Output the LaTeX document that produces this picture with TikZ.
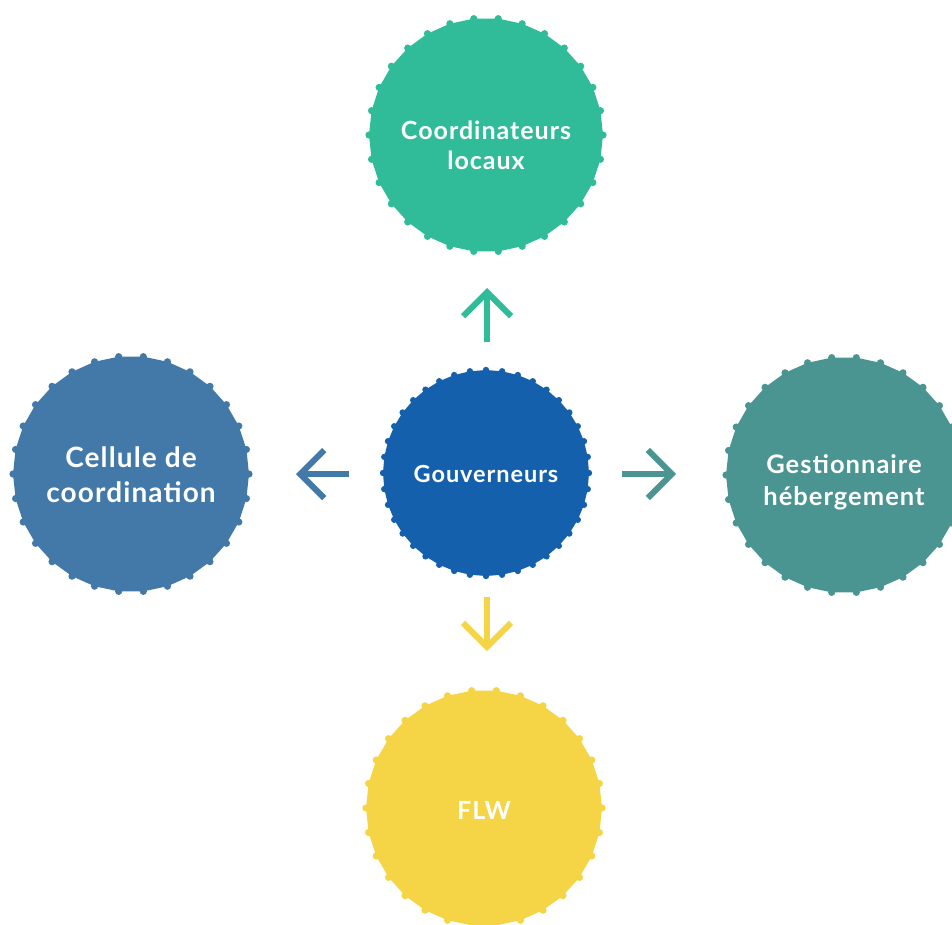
\documentclass[tikz,border=0pt]{standalone}
\usepackage{fontspec}
\setmainfont{Lato}[LetterSpace=4]
\usetikzlibrary{arrows.meta}
\definecolor{cgreen}{HTML}{30BC99}
\definecolor{cblue}{HTML}{1560AC}
\definecolor{cleft}{HTML}{4279A8}
\definecolor{cteal}{HTML}{4A9591}
\definecolor{cyellow}{HTML}{F5D545}
\tikzset{
  bubble/.style={circle, inner sep=0pt},
  btext/.style={text=white, align=center, inner sep=0pt},
  arr/.style={line width=6pt, draw=#1, -{Straight Barb[length=24pt, width=48pt, line width=6pt, line join=miter]}},
}
% name, x, y, r, n, dot radius, colour, text options, text
\newcommand\mybubble[9]{%
  \fill[#7] ({#2+#4},#3) \foreach \k in {1,...,#5}{ -- ([shift={({360/#5*\k}:#4)}]#2,#3) } -- cycle;
  \foreach \k in {1,...,#5}{ \fill[#7] ([shift={({360/#5*\k}:#4)}]#2,#3) circle (#6pt); }
  \node[bubble, minimum size={2*#4pt}] (#1) at (#2,#3) {};
  \node[btext, #8] (#1t) at (#1) {#9};
}
\begin{document}
\begin{tikzpicture}[x=1pt,y=-1pt]
\useasboundingbox (0,0) rectangle (952,924);
\clip (0,0) rectangle (952,924);
\mybubble{coord}{486}{135}{117}{30}{3.6}{cgreen}{font=\fontsize{25}{30}\selectfont\bfseries, yshift=-10pt}{Coordinateurs\\locaux}
\mybubble{gouv}{486}{473}{103}{40}{3.2}{cblue}{font=\fontsize{23.5}{24}\selectfont\bfseries, yshift=-1pt}{Gouverneurs}
\mybubble{cell}{131}{474}{118}{30}{3.6}{cleft}{font=\fontsize{28}{35}\selectfont\bfseries, yshift=-1pt}{Cellule de\\coordination}
\mybubble{gest}{844}{475}{118}{30}{3.6}{cteal}{font=\fontsize{25.5}{32}\selectfont\bfseries, yshift=-7pt}{Gestionnaire\\hébergement}
\mybubble{flw}{484}{808}{118}{30}{3.6}{cyellow}{font=\fontsize{25}{26}\selectfont\bfseries, yshift=-2pt}{FLW}
\coordinate (u1) at (487,342); \coordinate (u2) at (487,288);
\coordinate (l1) at (349,474); \coordinate (l2) at (296,474);
\coordinate (r1) at (622,474); \coordinate (r2) at (676,474);
\coordinate (d1) at (487,597); \coordinate (d2) at (487,651);
\draw[arr=cgreen] (u1) -- (u2);
\draw[arr=cleft] (l1) -- (l2);
\draw[arr=cteal] (r1) -- (r2);
\draw[arr=cyellow] (d1) -- (d2);
\end{tikzpicture}
\end{document}
